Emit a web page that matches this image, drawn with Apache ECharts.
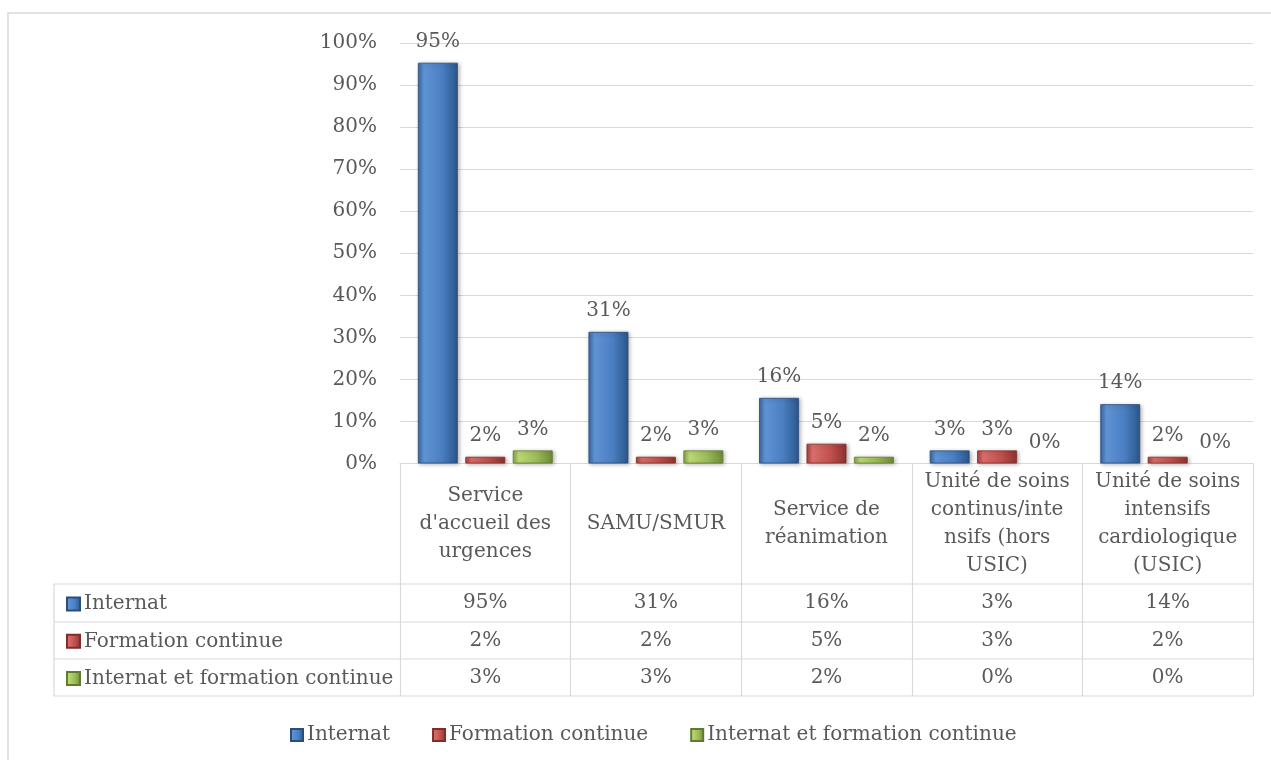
<!DOCTYPE html>
<html>
<head>
<meta charset="utf-8">
<script src="https://cdn.jsdelivr.net/npm/echarts@6/dist/echarts.min.js"></script>
<style>
  html, body { margin: 0; padding: 0; background: #fff; }
  #main { width: 1271px; height: 760px; }
</style>
</head>
<body>
<div id="main"></div>
<script>
// categories (line breaks as in the picture)
var categories = [
  "Service\nd'accueil des\nurgences",
  "SAMU/SMUR",
  "Service de\nréanimation",
  "Unité de soins\ncontinus/inte\nnsifs (hors\nUSIC)",
  "Unité de soins\nintensifs\ncardiologique\n(USIC)"
];
var seriesNames = ["Internat", "Formation continue", "Internat et formation continue"];
// values in %
var internat = [95.3, 31.3, 15.6, 3.1, 14.1];
var formation = [1.6, 1.6, 4.7, 3.1, 1.6];
var lesDeux = [3.1, 3.1, 1.6, 0, 0];
var yTicks = [0, 10, 20, 30, 40, 50, 60, 70, 80, 90, 100];

var rows = [internat, formation, lesDeux];
var textColor = "#595959";
var lineColor = "#d9d9d9";
var fontFam = "DejaVu Serif";
var fs = 20;

// layout
var gLeft = 400, gRight = 1253, gTop = 43, gBottom = 463.5;
var rowLines = [584, 622, 659, 696];
var tableLeft = 54;

function pct(v) { return Math.round(v) + "%"; }

function bevel(edgeL, light, mid, edgeR) {
  return new echarts.graphic.LinearGradient(0, 0, 1, 0, [
    { offset: 0, color: edgeL },
    { offset: 0.15, color: light },
    { offset: 0.6, color: mid },
    { offset: 1, color: edgeR }
  ]);
}
var fills = [
  bevel("#3a67a0", "#5f93d4", "#4a7fc2", "#2c568b"),
  bevel("#a83f3c", "#d96e6b", "#c0504d", "#8c3330"),
  bevel("#86a348", "#bcd975", "#9bbb59", "#6f8a38")
];
var borders = ["#2b4d7a", "#7d2d2a", "#627a30"];

var chart = echarts.init(document.getElementById("main"));

var series = rows.map(function (d, k) {
  return {
    name: seriesNames[k],
    type: "bar",
    // no visible sliver for zero values
    data: d.map(function (v) {
      return v === 0 ? { value: 0, itemStyle: { borderWidth: 0, shadowBlur: 0, shadowOffsetX: 0, shadowOffsetY: 0, opacity: 0 } } : v;
    }),
    barGap: "19%",
    barCategoryGap: "21%",
    itemStyle: {
      color: fills[k],
      borderColor: borders[k],
      borderWidth: 0.8,
      shadowColor: "rgba(0,0,0,0.3)",
      shadowBlur: 4,
      shadowOffsetX: 1.5,
      shadowOffsetY: 1
    },
    label: {
      show: true,
      position: "top",
      distance: 11,
      fontFamily: fontFam,
      fontSize: fs,
      color: textColor,
      opacity: 1,
      formatter: function (p) { return pct(p.value); }
    }
  };
});

// table value rows drawn as extra category axes
var rowCenters = [603, 640.5, 677.5];
var xAxes = [{
  type: "category",
  data: categories,
  axisLine: { lineStyle: { color: lineColor, width: 1.2 } },
  axisTick: { show: true, length: rowLines[3] - gBottom, interval: 0, lineStyle: { color: lineColor, width: 1.2 } },
  axisLabel: {
    interval: 0,
    margin: (rowLines[0] + gBottom) / 2 - gBottom,
    verticalAlign: "middle",
    fontFamily: fontFam,
    fontSize: fs,
    lineHeight: 28,
    color: textColor
  }
}];
rows.forEach(function (d, k) {
  xAxes.push({
    type: "category",
    data: categories,
    position: "bottom",
    offset: rowCenters[k] - gBottom,
    axisLine: { show: false },
    axisTick: { show: false },
    axisLabel: {
      interval: 0,
      margin: 0,
      verticalAlign: "middle",
      fontFamily: fontFam,
      fontSize: fs,
      color: textColor,
      formatter: function (v, i) { return pct(d[i]); }
    }
  });
});

var graphics = [{
  type: "rect",
  shape: { x: 8, y: 13, width: 1400, height: 900 },
  style: { fill: null, stroke: lineColor, lineWidth: 1.5 },
  z: -10
}];
rowLines.forEach(function (y) {
  graphics.push({
    type: "line",
    shape: { x1: tableLeft, y1: y, x2: gRight, y2: y },
    style: { stroke: lineColor, lineWidth: 1.2 }
  });
});
graphics.push({
  type: "line",
  shape: { x1: tableLeft, y1: rowLines[0], x2: tableLeft, y2: rowLines[3] },
  style: { stroke: lineColor, lineWidth: 1.2 }
});

chart.setOption({
  animation: false,
  backgroundColor: "#fff",
  textStyle: { fontFamily: fontFam },
  grid: { left: gLeft, right: 1271 - gRight, top: gTop, bottom: 760 - gBottom },
  legend: [{
    data: seriesNames,
    left: 285,
    top: 720,
    itemGap: 42,
    itemWidth: 12,
    itemHeight: 12,
    icon: "rect",
    selectedMode: false,
    textStyle: { fontFamily: fontFam, fontSize: fs, color: textColor, padding: [0, 0, 0, -1] }
  }, {
    data: seriesNames,
    orient: "vertical",
    left: 61,
    top: 588,
    itemGap: 15.3,
    itemWidth: 13,
    itemHeight: 13,
    icon: "rect",
    selectedMode: false,
    textStyle: { fontFamily: fontFam, fontSize: fs, lineHeight: 22, color: textColor, padding: [0, 0, 0, -1] }
  }],
  xAxis: xAxes,
  yAxis: {
    type: "value",
    min: yTicks[0],
    max: yTicks[yTicks.length - 1],
    interval: 10,
    axisLine: { show: false },
    axisTick: { show: false },
    axisLabel: {
      margin: 23,
      fontFamily: fontFam,
      fontSize: fs,
      color: textColor,
      formatter: "{value}%"
    },
    splitLine: { lineStyle: { color: lineColor, width: 1.2 } }
  },
  series: series,
  graphic: graphics
});
</script>
</body>
</html>
